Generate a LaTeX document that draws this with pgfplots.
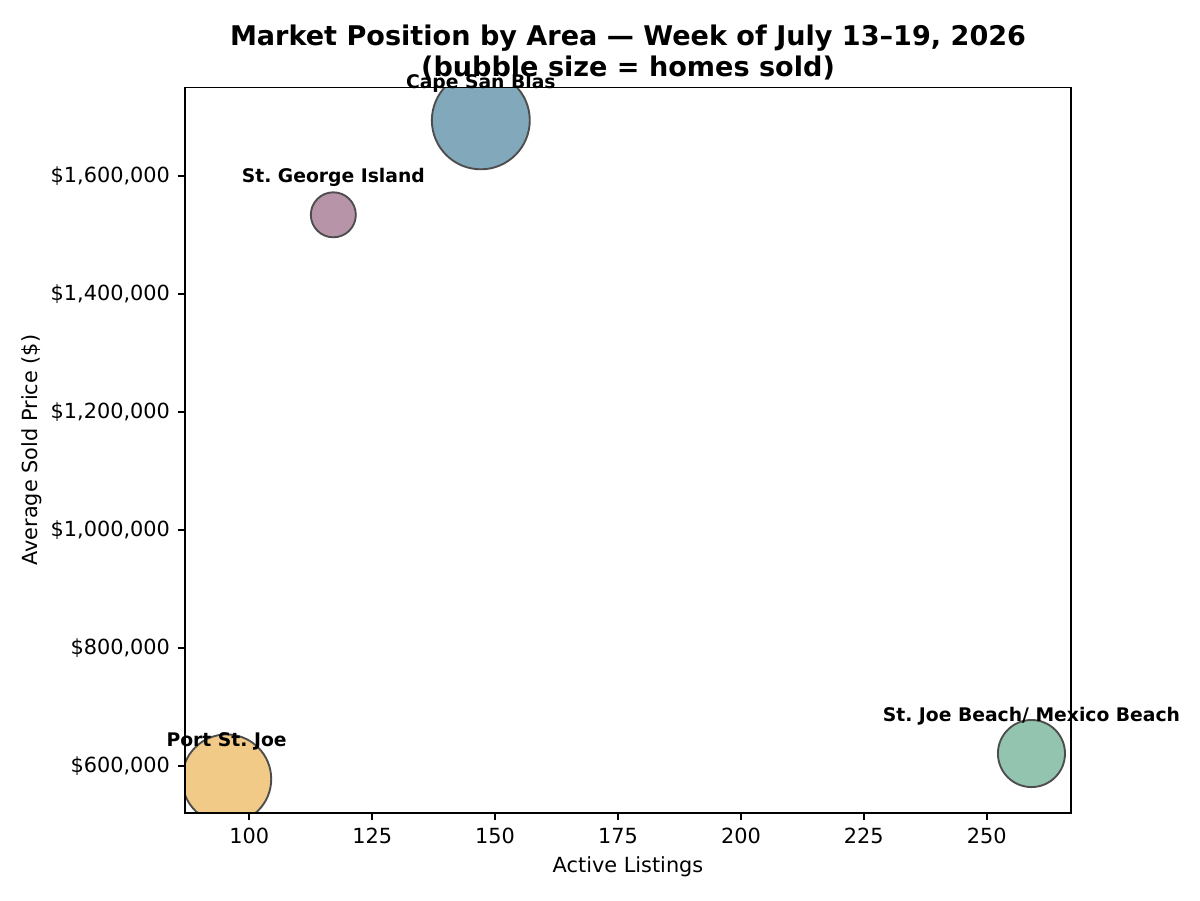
\documentclass[border=0pt]{standalone}
\usepackage{fontspec}
\setmainfont{DejaVu Sans}
\usepackage{pgfplots}
\pgfplotsset{compat=1.18}
\frenchspacing

\definecolor{capeC}{HTML}{82A8BB}
\definecolor{georgeC}{HTML}{B894A9}
\definecolor{portC}{HTML}{F2CA88}
\definecolor{beachC}{HTML}{92C4AF}
\definecolor{edgeC}{HTML}{4D4D4D}

\pgfplotsset{
  frame/.style={
    at={(0pt,0pt)}, anchor=south west,
    scale only axis,
    width=425.3pt, height=348.3pt,
    xmin=86.93, xmax=267.15,
    ymin=520380, ymax=1750262,
  },
}

\begin{document}
\begin{tikzpicture}
\useasboundingbox (-88.8pt,-41.76pt) rectangle (487.2pt,390.24pt);
% bubbles (mark size = radius), clipped to the axis box
\begin{scope}
\clip (0pt,0pt) rectangle (425.3pt,348.3pt);
\begin{axis}[frame, hide axis]
\addplot[only marks, mark=*, mark size=23.5pt,
  mark options={fill=capeC, draw=edgeC, line width=0.9pt}]
  coordinates {(147.1,1694360)};
\addplot[only marks, mark=*, mark size=10.8pt,
  mark options={fill=georgeC, draw=edgeC, line width=0.9pt}]
  coordinates {(117.1,1534270)};
\addplot[only marks, mark=*, mark size=21.4pt,
  mark options={fill=portC, draw=edgeC, line width=0.9pt}]
  coordinates {(95.4,577977)};
\addplot[only marks, mark=*, mark size=16.1pt,
  mark options={fill=beachC, draw=edgeC, line width=0.9pt}]
  coordinates {(259.1,621175)};
\end{axis}
\end{scope}
% frame, ticks, labels, title
\begin{axis}[
  frame,
  axis line style={black, line width=0.8pt},
  tick align=outside,
  major tick length=3.5pt,
  every tick/.style={black, line width=0.8pt},
  xtick pos=lower, ytick pos=left,
  xtick={100,125,150,175,200,225,250},
  ytick={600000,800000,1000000,1200000,1400000,1600000},
  yticklabels={{\$600,000},{\$800,000},{\$1,000,000},{\$1,200,000},{\$1,400,000},{\$1,600,000}},
  scaled ticks=false,
  /pgf/number format/assume math mode=true,
  tick label style={font=\fontsize{10}{12}\selectfont},
  xticklabel style={inner sep=0pt, yshift=-3.5pt},
  yticklabel style={inner sep=0pt, xshift=-3.5pt},
  xlabel={Active Listings},
  ylabel={Average Sold Price (\$)},
  label style={font=\fontsize{10}{12}\selectfont},
  xlabel style={at={(axis description cs:0.5,-0.0737)}, anchor=center},
  ylabel style={at={(axis description cs:-0.1727,0.5)}, anchor=center},
  title={Market Position by Area — Week of July 13–19, 2026\\(bubble size = homes sold)},
  title style={at={(axis description cs:0.5,1)}, anchor=south, yshift=-2.5pt,
    inner sep=0pt, align=center, font=\bfseries\fontsize{13}{14.8}\selectfont},
]
\end{axis}
% labels, not clipped
\begin{axis}[frame, hide axis, clip=false]
\addplot[only marks, mark=*, mark size=0pt, mark options={draw=none, fill=none},
  point meta=explicit symbolic,
  nodes near coords,
  nodes near coords style={font=\bfseries\fontsize{9}{10.8}\selectfont,
    anchor=center, yshift=18pt, inner sep=0pt}]
  coordinates {
    (147.1,1694360) [Cape San Blas]
    (117.1,1534270) [St. George Island]
    (95.4,577977) [Port St. Joe]
    (259.1,621175) [St. Joe Beach/ Mexico Beach]
  };
\end{axis}
\end{tikzpicture}
\end{document}
